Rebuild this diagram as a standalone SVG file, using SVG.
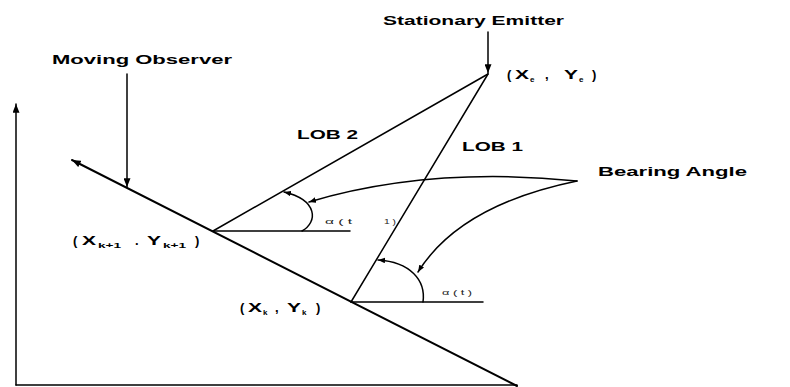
<svg xmlns="http://www.w3.org/2000/svg" width="790" height="387" viewBox="0 0 790 387">
  <defs>
    <marker id="ah" viewBox="0 0 10 8" refX="10" refY="4" markerWidth="9" markerHeight="7" orient="auto" markerUnits="userSpaceOnUse">
      <path d="M0,0 L10,4 L0,8 z" fill="#000"/>
    </marker>
    <marker id="ahs" viewBox="0 0 10 8" refX="10" refY="4" markerWidth="7" markerHeight="6" orient="auto" markerUnits="userSpaceOnUse">
      <path d="M0,0 L10,4 L0,8 z" fill="#000"/>
    </marker>
  </defs>
  <style>
    .lbl { font-family: "Liberation Sans", Arial, sans-serif; font-weight: bold; font-size: 12px; fill: #000; }
    .big { font-family: "Liberation Sans", Arial, sans-serif; font-weight: bold; font-size: 13px; fill: #000; }
    .sub { font-family: "Liberation Sans", Arial, sans-serif; font-weight: bold; font-size: 8px; fill: #000; }
    .tiny { font-family: "Liberation Sans", Arial, sans-serif; font-size: 7px; fill: #222; }
    .ln { stroke: #000; stroke-width: 1.5; fill: none; stroke-linecap: round; }
    .thick { stroke: #000; stroke-width: 2; fill: none; stroke-linecap: round; }
  </style>
  <rect width="790" height="387" fill="#fff"/>

  <g id="connectors">
    <line class="ln" x1="16" y1="385" x2="16" y2="104" marker-end="url(#ah)"/>
    <line class="ln" x1="16" y1="385" x2="517" y2="385"/>
    <line class="thick" x1="517" y1="386" x2="72" y2="160" marker-end="url(#ah)"/>
    <line class="ln" x1="213" y1="231" x2="488" y2="74"/>
    <line class="ln" x1="351" y1="302" x2="488" y2="74"/>
    <line class="ln" x1="213" y1="231" x2="350" y2="231"/>
    <line class="ln" x1="351" y1="302" x2="483" y2="302"/>
    <line class="ln" x1="127" y1="74" x2="127" y2="187" marker-end="url(#ah)"/>
    <line class="ln" x1="488" y1="32" x2="488" y2="73" marker-end="url(#ah)"/>
    <path class="ln" d="M302,231 C318,222 318,200 284,192" marker-end="url(#ahs)"/>
    <path class="ln" d="M423,302 C426,280 410,262 378,260" marker-end="url(#ahs)"/>
    <path class="ln" d="M577,181 Q430,166 309,202" marker-end="url(#ahs)"/>
    <path class="ln" d="M577,181 Q460,205 418,272" marker-end="url(#ahs)"/>
  </g>

  <g id="moving-observer">
    <text class="lbl" x="52" y="64" textLength="180" lengthAdjust="spacingAndGlyphs">Moving Observer</text>
  </g>
  <g id="stationary-emitter">
    <text class="lbl" x="383" y="25" textLength="181" lengthAdjust="spacingAndGlyphs">Stationary Emitter</text>
  </g>
  <g id="emitter-pos">
    <text class="big" x="507" y="79">(</text>
    <text class="big" x="515" y="79" textLength="14" lengthAdjust="spacingAndGlyphs">X</text>
    <text class="sub" x="530" y="82">e</text>
    <text class="big" x="545" y="79">,</text>
    <text class="big" x="564" y="79" textLength="14" lengthAdjust="spacingAndGlyphs">Y</text>
    <text class="sub" x="579" y="82">e</text>
    <text class="big" x="592" y="79">)</text>
  </g>
  <g id="lob2">
    <text class="lbl" x="297" y="139" textLength="61" lengthAdjust="spacingAndGlyphs">LOB 2</text>
  </g>
  <g id="lob1">
    <text class="lbl" x="462" y="151" textLength="61" lengthAdjust="spacingAndGlyphs">LOB 1</text>
  </g>
  <g id="bearing-angle">
    <text class="lbl" x="598" y="176" textLength="149" lengthAdjust="spacingAndGlyphs">Bearing Angle</text>
  </g>
  <g id="obs-k1">
    <text class="big" x="73" y="245">(</text>
    <text class="big" x="82" y="245" textLength="14" lengthAdjust="spacingAndGlyphs">X</text>
    <text class="sub" x="98" y="248" textLength="23" lengthAdjust="spacingAndGlyphs">k+1</text>
    <text class="big" x="135" y="245">.</text>
    <text class="big" x="147" y="245" textLength="14" lengthAdjust="spacingAndGlyphs">Y</text>
    <text class="sub" x="163" y="248" textLength="23" lengthAdjust="spacingAndGlyphs">k+1</text>
    <text class="big" x="195" y="245">)</text>
    <text class="tiny" x="325" y="224" textLength="27" lengthAdjust="spacingAndGlyphs">α ( t</text>
    <text class="tiny" x="384" y="224" textLength="12" lengthAdjust="spacingAndGlyphs">1 )</text>
  </g>
  <g id="obs-k">
    <text class="big" x="240" y="312">(</text>
    <text class="big" x="248" y="312" textLength="14" lengthAdjust="spacingAndGlyphs">X</text>
    <text class="sub" x="263" y="315">k</text>
    <text class="big" x="275" y="312">,</text>
    <text class="big" x="287" y="312" textLength="14" lengthAdjust="spacingAndGlyphs">Y</text>
    <text class="sub" x="302" y="315">k</text>
    <text class="big" x="316" y="312">)</text>
    <text class="tiny" x="442" y="295" textLength="30" lengthAdjust="spacingAndGlyphs">α ( t )</text>
  </g>
</svg>
